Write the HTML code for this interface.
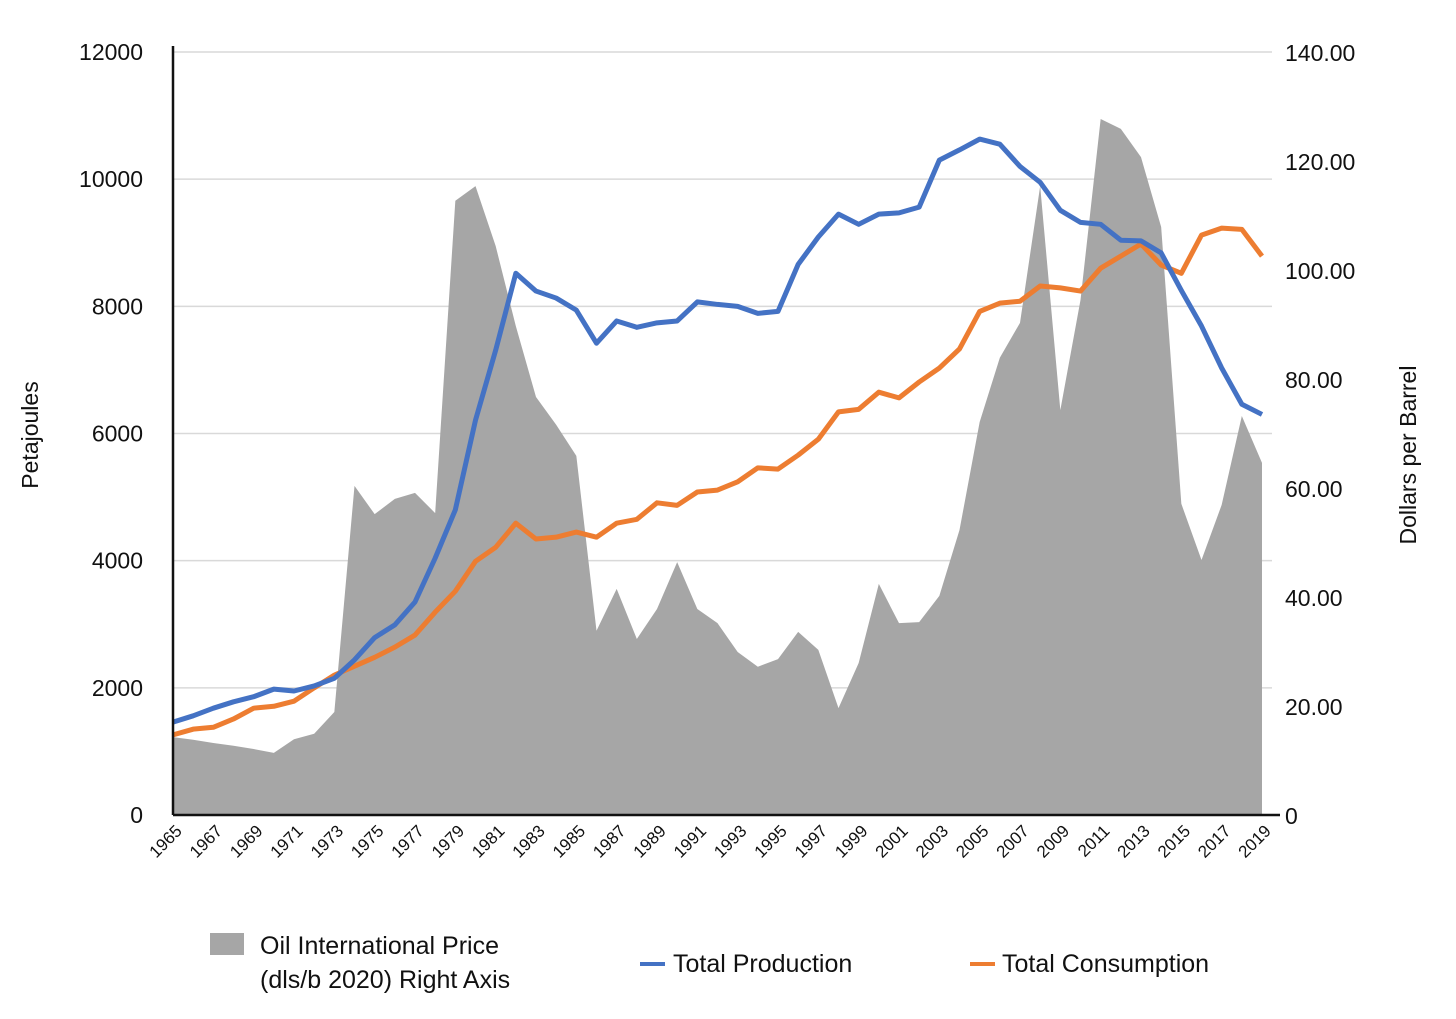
<!DOCTYPE html>
<html><head><meta charset="utf-8">
<style>
html,body{margin:0;padding:0;background:#fff;}
svg{display:block;font-family:"Liberation Sans",sans-serif;}
</style></head>
<body>
<svg id="chart" width="1456" height="1019" viewBox="0 0 1456 1019">
<g id="grid"></g>
<g id="area"></g>
<g id="lines"></g>
<g id="axes"></g>
<text x="38" y="435" font-size="23" fill="#111" text-anchor="middle" transform="rotate(-90 38 435)">Petajoules</text>
<text x="1416" y="455" font-size="23" fill="#111" text-anchor="middle" transform="rotate(-90 1416 455)">Dollars per Barrel</text>
<g>
<g>
<rect x="210" y="933" width="34" height="22" fill="#a6a6a6"/>
<text x="260" y="954" font-size="25" fill="#111">Oil International Price</text>
<text x="260" y="988" font-size="25" fill="#111">(dls/b 2020) Right Axis</text>
</g>
<g>
<line x1="640" y1="964" x2="665" y2="964" stroke="#4472c4" stroke-width="4"/>
<text x="673" y="972" font-size="25" fill="#111">Total Production</text>
</g>
<g>
<line x1="970" y1="964" x2="995" y2="964" stroke="#ed7d31" stroke-width="4"/>
<text x="1002" y="972" font-size="25" fill="#111">Total Consumption</text>
</g>
</g>
</svg>
<script>
const years=[];for(let y=1965;y<=2019;y++)years.push(y);
const production=[1460,1560,1680,1780,1860,1980,1950,2030,2150,2440,2790,2990,3350,4040,4800,6210,7310,8520,8240,8130,7940,7420,7770,7670,7740,7770,8070,8030,8000,7890,7920,8660,9090,9450,9290,9450,9470,9560,10300,10460,10630,10550,10200,9950,9510,9320,9290,9040,9030,8840,8250,7690,7030,6460,6300];
const consumption=[1260,1350,1380,1510,1680,1710,1790,2000,2200,2340,2480,2640,2830,3190,3520,3990,4210,4590,4340,4370,4450,4370,4590,4650,4910,4870,5080,5110,5240,5460,5440,5660,5910,6340,6380,6650,6560,6810,7030,7330,7920,8050,8080,8320,8290,8240,8600,8790,8980,8650,8520,9120,9230,9210,8790];
const price=[14.3,13.8,13.2,12.7,12.1,11.4,13.9,14.9,18.9,60.4,55.2,58.0,59.1,55.4,112.7,115.4,104.4,89.7,76.7,71.6,65.9,33.8,41.5,32.3,37.8,46.4,37.8,35.2,29.9,27.2,28.6,33.6,30.3,19.6,27.9,42.4,35.2,35.4,40.2,52.3,72.1,83.9,90.3,115.4,74.3,94.5,127.7,125.9,120.7,107.9,57.1,46.8,56.9,73.2,64.6];
const leftTicks=[0,2000,4000,6000,8000,10000,12000];
const rightTicks=["0","20.00","40.00","60.00","80.00","100.00","120.00","140.00"];
const X0=173,X1=1262,YT=52,YB=815;
const xs=i=>X0+(X1-X0)*i/(years.length-1);
const yl=v=>YB-(YB-YT)*v/12000;
const yr=v=>YB-(YB-YT)*v/140;
const NS="http://www.w3.org/2000/svg";
function mk(tag,attrs,parent){const e=document.createElementNS(NS,tag);for(const k in attrs)e.setAttribute(k,attrs[k]);parent.appendChild(e);return e;}
const grid=document.getElementById('grid'),area=document.getElementById('area'),lines=document.getElementById('lines'),axes=document.getElementById('axes');
leftTicks.forEach(t=>{
  if(t>0){const g=mk('line',{x1:X0,x2:1272,y1:yl(t),y2:yl(t),stroke:'#d9d9d9','stroke-width':1.5},grid);
  
  }
  const tx=mk('text',{x:143,y:yl(t)+8,'font-size':23,'text-anchor':'end',fill:'#111'},axes);tx.textContent=t;
  
  
});
rightTicks.forEach((t,i)=>{
  const tx=mk('text',{x:1285,y:yr(i*20)+9,'font-size':23,fill:'#111'},axes);tx.textContent=t;
  
  
});
let d='M'+xs(0)+','+YB;price.forEach((v,i)=>d+=' L'+xs(i)+','+yr(v));d+=' L'+xs(price.length-1)+','+YB+' Z';
const ar=mk('path',{d:d,fill:'#a6a6a6'},area);


function line(arr,col,name){const p=mk('polyline',{points:arr.map((v,i)=>xs(i)+','+yl(v)).join(' '),fill:'none',stroke:col,'stroke-width':5,'stroke-linejoin':'round'},lines);
  
  }
line(consumption,'#ed7d31','total-consumption-line');
line(production,'#4472c4','total-production-line');
const ya=mk('line',{x1:X0,x2:X0,y1:46,y2:YB,stroke:'#111','stroke-width':2.5},axes);


const xa=mk('line',{x1:X0,x2:1280,y1:YB,y2:YB,stroke:'#111','stroke-width':2.5},axes);


years.forEach((y,i)=>{
  if(i%2!==0)return;
  const x=xs(i)+10,yy=832;
  const tx=mk('text',{x:x,y:yy,'font-size':17,'text-anchor':'end',fill:'#111',transform:'rotate(-45 '+x+' '+yy+')'},axes);tx.textContent=y;
  
  
});
</script>
</body></html>
